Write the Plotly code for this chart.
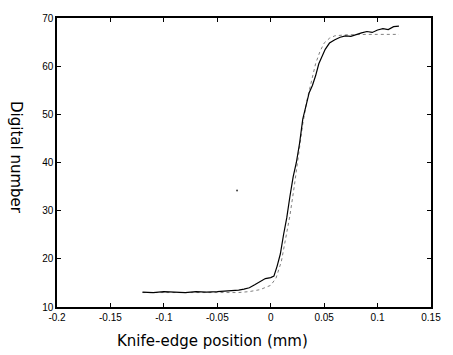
import plotly.graph_objects as go

# Measured edge profile (solid)
meas_x = [-0.12, -0.11, -0.10, -0.09, -0.08, -0.07, -0.06, -0.05, -0.04, -0.03, -0.025, -0.02,
          -0.015, -0.01, -0.005, 0.0, 0.003, 0.006, 0.009, 0.012, 0.015, 0.018, 0.021, 0.024,
          0.027, 0.030, 0.033, 0.036, 0.039, 0.042, 0.045, 0.048, 0.051, 0.055, 0.06, 0.065,
          0.07, 0.075, 0.08, 0.085, 0.09, 0.095, 0.10, 0.105, 0.11, 0.115, 0.12]
meas_y = [13.1, 13.0, 13.2, 13.1, 13.0, 13.2, 13.1, 13.2, 13.3, 13.5, 13.7, 14.0,
          14.6, 15.3, 15.9, 16.1, 16.4, 18.5, 21.0, 25.0, 28.5, 33.0, 37.0, 40.0,
          44.0, 49.0, 52.0, 54.5, 56.0, 58.0, 60.5, 62.0, 63.5, 64.8, 65.5, 66.0,
          66.3, 66.2, 66.6, 66.9, 67.2, 67.0, 67.5, 67.8, 67.6, 68.2, 68.3]

# Model edge profile (dotted)
model_x = [-0.12, -0.10, -0.08, -0.06, -0.04, -0.03, -0.02, -0.01, 0.0, 0.005, 0.01, 0.014,
           0.018, 0.022, 0.026, 0.030, 0.034, 0.038, 0.042, 0.046, 0.05, 0.055, 0.06, 0.07,
           0.08, 0.09, 0.10, 0.11, 0.12]
model_y = [13.0, 13.0, 13.0, 13.0, 13.0, 13.0, 13.2, 13.6, 14.5, 16.0, 19.5, 24.0,
           29.0, 35.0, 42.0, 48.0, 53.0, 57.0, 60.5, 63.0, 64.8, 65.8, 66.3, 66.5,
           66.6, 66.6, 66.6, 66.6, 66.6]

# stray speck in the figure
speck_x = [-0.0315]
speck_y = [34.2]

x_ticks = [-0.2, -0.15, -0.1, -0.05, 0, 0.05, 0.1, 0.15]
x_labels = ["-0.2", "-0.15", "-0.1", "-0.05", "0", "0.05", "0.1", "0.15"]
y_ticks = [10, 20, 30, 40, 50, 60, 70]

x_title = "Knife-edge position (mm)"
y_title = "Digital number"

fig = go.Figure()
fig.add_trace(go.Scatter(x=model_x, y=model_y, mode="lines",
                         line=dict(color="#808080", width=1, dash="dot"), showlegend=False))
fig.add_trace(go.Scatter(x=meas_x, y=meas_y, mode="lines",
                         line=dict(color="black", width=1.2), showlegend=False))
fig.add_trace(go.Scatter(x=speck_x, y=speck_y, mode="markers",
                         marker=dict(color="#444444", size=2), showlegend=False))

axis_common = dict(showgrid=False, zeroline=False, showline=True, linecolor="black",
                   linewidth=1.5, mirror="allticks", ticks="inside", ticklen=4,
                   tickcolor="black", tickfont=dict(family="Liberation Sans, Arial", size=10,
                                                     color="black"))
fig.update_xaxes(range=[-0.2, 0.15], tickvals=x_ticks, ticktext=x_labels, **axis_common)
fig.update_yaxes(range=[10, 70], tickvals=y_ticks, **axis_common)

title_font = dict(family="DejaVu Sans", size=15, color="black")
fig.add_annotation(text=x_title, xref="paper", yref="paper", x=0.415, y=-0.116,
                   xanchor="center", yanchor="middle", showarrow=False, font=title_font)
fig.add_annotation(text=y_title, xref="paper", yref="paper", x=-0.108, y=0.517,
                   xanchor="center", yanchor="middle", showarrow=False, textangle=90,
                   font=title_font)

fig.update_layout(width=453, height=355, margin=dict(l=57, r=18, t=13, b=48),
                  plot_bgcolor="white", paper_bgcolor="white")

fig.write_html("out.html")
